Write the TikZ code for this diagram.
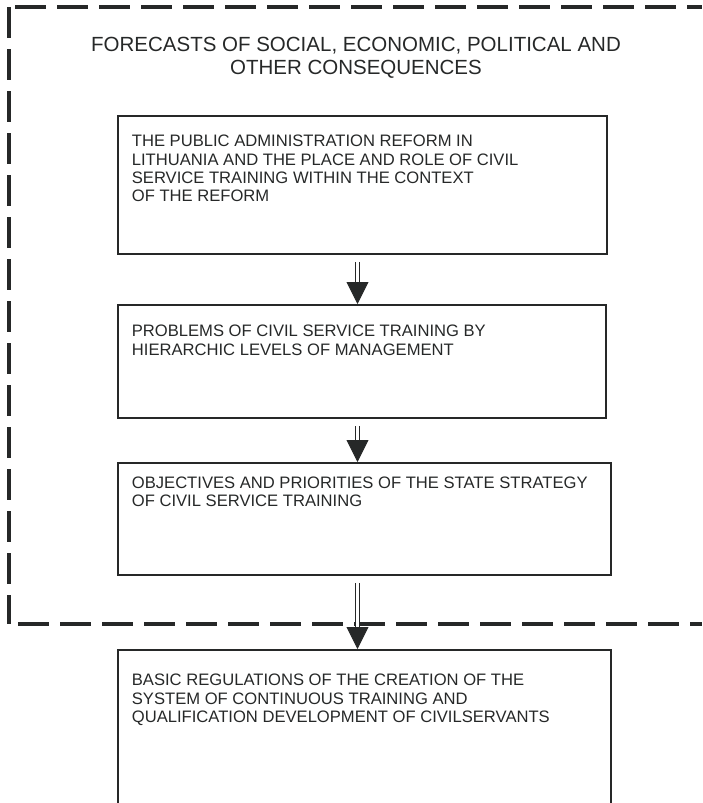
\documentclass[tikz,border=0pt]{standalone}
\usepackage{fontspec}
\setmainfont{Liberation Sans}
\usetikzlibrary{arrows.meta}
\definecolor{ink}{RGB}{38,40,40}
\begin{document}
\begin{tikzpicture}[x=1pt,y=-1pt,
  frame/.style={draw=ink, line width=4pt, dash pattern=on 31pt off 11pt},
  box/.style={draw=ink, line width=1.8pt, rectangle, inner sep=0pt, anchor=north west},
  % the base anchor of a multi-line node sits on its last line
  boxtext/.style={inner sep=0pt, anchor=base west, align=left, text=ink,
    font=\fontsize{16.6}{18.3}\selectfont},
  title/.style={inner sep=0pt, anchor=base, align=center, text=ink,
    font=\fontsize{20.5}{23.5}\selectfont},
  flow/.style={draw=ink, double=white, double distance=2.4pt, line width=0.9pt,
    shorten <=7pt, -{Triangle[width=22pt,length=22pt]}}
]
\useasboundingbox (0,0) rectangle (702,803);
\clip (0,0) rectangle (702,803);

% dashed frame around the strategy part (open on the right)
\draw[frame] (15,6.5) -- (702,6.5);
\draw[frame] (8.5,7) -- (8.5,623.5);
\draw[frame] (18,623.5) -- (702,623.5);

\node[title] (head) at (356,74.5) {FORECASTS OF SOCIAL, ECONOMIC, POLITICAL AND\\OTHER CONSEQUENCES};

% boxes
\node[box, minimum width=489pt, minimum height=138pt] (b1) at (117,115) {};
\node[box, minimum width=488pt, minimum height=113pt] (b2) at (117,304) {};
\node[box, minimum width=493pt, minimum height=112pt] (b3) at (117,462) {};
\node[box, minimum width=493pt, minimum height=200pt] (b4) at (117,649) {};

\node[boxtext] (t1) at ([shift={(14.7,86.6)}]b1.north west)
  {THE PUBLIC ADMINISTRATION REFORM IN\\LITHUANIA AND THE PLACE AND ROLE OF CIVIL\\SERVICE TRAINING WITHIN THE CONTEXT\\OF THE REFORM};
\node[boxtext] (t2) at ([shift={(14.7,51)}]b2.north west)
  {PROBLEMS OF CIVIL SERVICE TRAINING BY\\HIERARCHIC LEVELS OF MANAGEMENT};
\node[boxtext] (t3) at ([shift={(14.7,44.9)}]b3.north west)
  {OBJECTIVES AND PRIORITIES OF THE STATE STRATEGY\\OF CIVIL SERVICE TRAINING};
\node[boxtext] (t4) at ([shift={(14.7,73.3)}]b4.north west)
  {BASIC REGULATIONS OF THE CREATION OF THE\\SYSTEM OF CONTINUOUS TRAINING AND\\QUALIFICATION DEVELOPMENT OF CIVILSERVANTS};

% connectors
\coordinate (ax) at (357.5,0);
\draw[flow] (b1.south -| ax) -- (b2.north -| ax);
\draw[flow] (b2.south -| ax) -- (b3.north -| ax);
\draw[flow] (b3.south -| ax) -- (b4.north -| ax);
\end{tikzpicture}
\end{document}
